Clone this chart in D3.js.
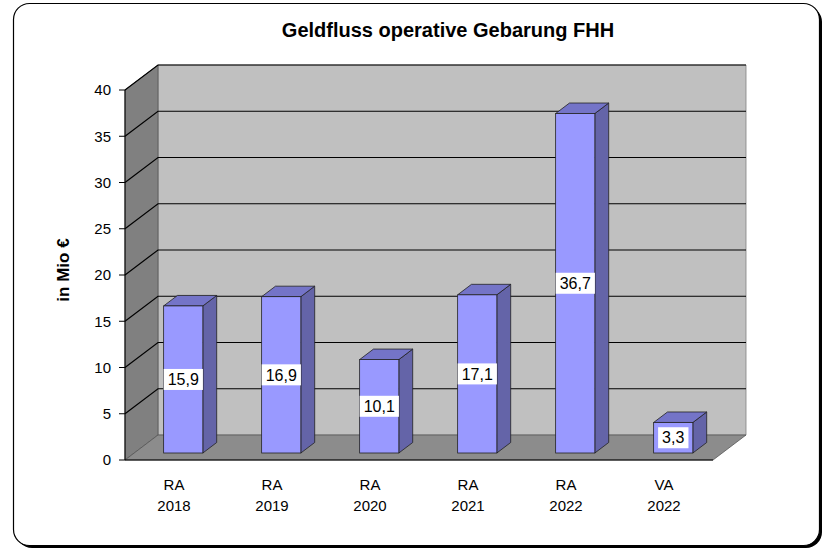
<!DOCTYPE html>
<html>
<head>
<meta charset="utf-8">
<script src="https://cdn.jsdelivr.net/npm/d3@7"></script>
<style>
  body { margin: 0; background: #fff; }
  text { font-family: "Liberation Sans", Arial, sans-serif; }
</style>
</head>
<body>
<div id="chart"></div>
<script>
// Daten
var kategorien = ["RA 2018", "RA 2019", "RA 2020", "RA 2021", "RA 2022", "VA 2022"];
var werte = [15.9, 16.9, 10.1, 17.1, 36.7, 3.3];
var yTicks = [0, 5, 10, 15, 20, 25, 30, 35, 40];
var titel = "Geldfluss operative Gebarung FHH";
var yTitel = "in Mio €";

var width = 822, height = 549;
var depthX = 33, depthY = -25;   // 3D Tiefe der Wände
var f0 = 0.28, f1 = 0.70;        // Balken vorne / hinten (Anteil der Tiefe)

var svg = d3.select("#chart").append("svg")
  .attr("width", width)
  .attr("height", height);

// Rahmen mit Schatten
svg.append("rect")
  .attr("x", 16).attr("y", 6).attr("width", 806).attr("height", 542)
  .attr("rx", 16).attr("fill", "#000");
svg.append("rect")
  .attr("x", 13.5).attr("y", 3.5).attr("width", 806).attr("height", 542)
  .attr("rx", 16).attr("fill", "#fff").attr("stroke", "#000").attr("stroke-width", 1.2);

svg.append("text")
  .attr("x", 448).attr("y", 37)
  .attr("text-anchor", "middle")
  .style("font-size", "20px").style("font-weight", "bold")
  .text(titel);

var x = d3.scaleBand().domain(kategorien).range([125, 713]).paddingInner(0.6).paddingOuter(0.3);
var y = d3.scaleLinear().domain([0, 40]).range([460, 90]);
var x0 = 125, x1 = 713;

// Wände
var g = svg.append("g");
function pts(a) { return a.map(function (p) { return p.join(","); }).join(" "); }

g.append("polygon") // Rückwand
  .attr("points", pts([[x0 + depthX, y(40) + depthY], [x1 + depthX, y(40) + depthY], [x1 + depthX, y(0) + depthY], [x0 + depthX, y(0) + depthY]]))
  .attr("fill", "#c0c0c0").attr("stroke", "#808080").attr("stroke-width", 0.8);
g.append("polygon") // linke Wand
  .attr("points", pts([[x0, y(40)], [x0 + depthX, y(40) + depthY], [x0 + depthX, y(0) + depthY], [x0, y(0)]]))
  .attr("fill", "#808080").attr("stroke", "#555").attr("stroke-width", 0.8);
g.append("polygon") // Boden
  .attr("points", pts([[x0, y(0)], [x0 + depthX, y(0) + depthY], [x1 + depthX, y(0) + depthY], [x1, y(0)]]))
  .attr("fill", "#8c8c8c").attr("stroke", "#555").attr("stroke-width", 0.8);

// Gitternetzlinien
yTicks.filter(function (t) { return t > 0; }).forEach(function (t) {
  g.append("polyline")
    .attr("points", pts([[x0, y(t)], [x0 + depthX, y(t) + depthY], [x1 + depthX, y(t) + depthY]]))
    .attr("fill", "none").attr("stroke", "#000").attr("stroke-width", 1.2);
});

// Achsen
g.append("line").attr("x1", x0).attr("x2", x0).attr("y1", y(40)).attr("y2", y(0)).attr("stroke", "#000");
g.append("line").attr("x1", x0).attr("x2", x1).attr("y1", y(0)).attr("y2", y(0)).attr("stroke", "#000");

yTicks.forEach(function (t) {
  g.append("line").attr("x1", x0 - 6).attr("x2", x0).attr("y1", y(t)).attr("y2", y(t)).attr("stroke", "#000");
  g.append("text")
    .attr("x", x0 - 14).attr("y", y(t)).attr("dy", "0.36em")
    .attr("text-anchor", "end").style("font-size", "15px")
    .text(t);
});

svg.append("text")
  .attr("transform", "translate(69,270) rotate(-90)")
  .attr("text-anchor", "middle")
  .style("font-size", "17px").style("font-weight", "bold")
  .text(yTitel);

// Kategorie-Beschriftung
kategorien.forEach(function (k) {
  var parts = k.split(" ");
  var t = svg.append("text")
    .attr("x", x(k) + x.bandwidth() / 2)
    .attr("text-anchor", "middle").style("font-size", "15px");
  t.append("tspan").attr("x", x(k) + x.bandwidth() / 2).attr("y", 490).text(parts[0]);
  t.append("tspan").attr("x", x(k) + x.bandwidth() / 2).attr("y", 511).text(parts[1]);
});

// Balken
var bars = svg.selectAll("g.bar")
  .data(kategorien.map(function (k, i) { return { k: k, v: werte[i] }; }))
  .enter().append("g").attr("class", "bar");

bars.each(function (d) {
  var sel = d3.select(this);
  var fx = depthX * f0, fy = depthY * f0;
  var bx = depthX * (f1 - f0), by = depthY * (f1 - f0);
  var L = x(d.k) + fx, R = x(d.k) + x.bandwidth() + fx;
  var T = y(d.v) + fy, B = y(0) + fy;
  sel.append("polygon") // Seite
    .attr("points", pts([[R, T], [R + bx, T + by], [R + bx, B + by], [R, B]]))
    .attr("fill", "#6464a8").attr("stroke", "#222").attr("stroke-width", 0.8);
  sel.append("polygon") // Deckel
    .attr("points", pts([[L, T], [L + bx, T + by], [R + bx, T + by], [R, T]]))
    .attr("fill", "#7474c8").attr("stroke", "#222").attr("stroke-width", 0.8);
  sel.append("rect") // Vorderseite
    .attr("x", L).attr("y", T).attr("width", R - L).attr("height", B - T)
    .attr("fill", "#9999ff").attr("stroke", "#222").attr("stroke-width", 0.8);

  var cx = (L + R) / 2, cy = (T + B) / 2;
  var lbl = sel.append("text")
    .attr("x", cx).attr("y", cy).attr("dy", "0.36em")
    .attr("text-anchor", "middle").style("font-size", "16px")
    .text(d3.format(".1f")(d.v).replace(".", ","));
  var bb = lbl.node().getBBox();
  sel.insert("rect", "text")
    .attr("x", bb.x - 4).attr("y", cy - 10.5)
    .attr("width", bb.width + 8).attr("height", 21)
    .attr("fill", "#fff");
});
</script>
</body>
</html>
